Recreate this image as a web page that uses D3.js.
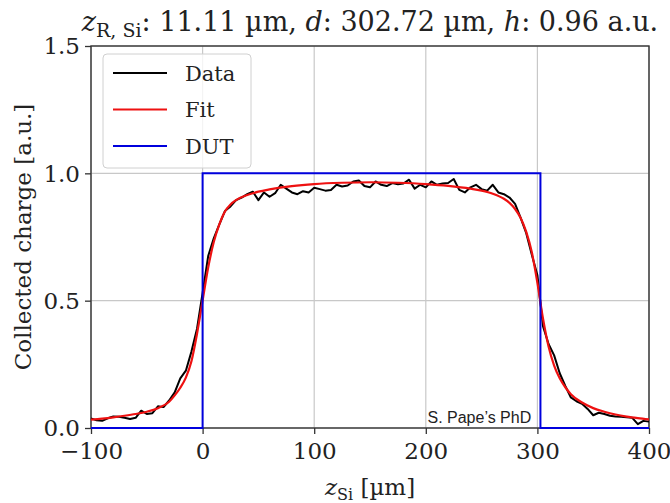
<!DOCTYPE html>
<html>
<head>
<meta charset="utf-8">
<script src="https://cdn.jsdelivr.net/npm/d3@7"></script>
<style>
  body { margin: 0; background: #fff; }
  text { font-family: "DejaVu Serif", serif; fill: #222; }
</style>
</head>
<body>
<div id="chart"></div>
<script>
// scan positions [um] and collected charge [a.u.]
var dataZ = [-100, -95, -90, -85, -80, -75, -70, -65, -60, -55, -50, -45, -40, -35, -30, -25, -20, -15, -10, -5,
    0, 5, 10, 15, 20, 25, 30, 35, 40, 45, 50, 55, 60, 65, 70, 75, 80, 85, 90, 95,
    100, 105, 110, 115, 120, 125, 130, 135, 140, 145, 150, 155, 160, 165, 170, 175, 180, 185, 190, 195,
    200, 205, 210, 215, 220, 225, 230, 235, 240, 245, 250, 255, 260, 265, 270, 275, 280, 285, 290, 295,
    300, 305, 310, 315, 320, 325, 330, 335, 340, 345, 350, 355, 360, 365, 370, 375, 380, 385, 390, 395, 400];
var dataQ = [0.038, 0.030, 0.028, 0.038, 0.045, 0.044, 0.040, 0.035, 0.040, 0.068, 0.055, 0.058, 0.085, 0.082, 0.108, 0.140, 0.195, 0.225, 0.300, 0.390,
    0.530, 0.675, 0.745, 0.800, 0.852, 0.870, 0.895, 0.905, 0.918, 0.928, 0.895, 0.925, 0.908, 0.922, 0.955, 0.940, 0.925, 0.918, 0.930, 0.925,
    0.943, 0.938, 0.932, 0.935, 0.955, 0.948, 0.952, 0.968, 0.972, 0.950, 0.945, 0.968, 0.955, 0.950, 0.962, 0.957, 0.960, 0.975, 0.940, 0.955,
    0.945, 0.968, 0.955, 0.960, 0.962, 0.978, 0.935, 0.925, 0.945, 0.955, 0.938, 0.932, 0.955, 0.925, 0.918, 0.905, 0.880, 0.825, 0.765, 0.680,
    0.600, 0.400, 0.330, 0.285, 0.215, 0.165, 0.120, 0.105, 0.095, 0.075, 0.050, 0.060, 0.055, 0.048, 0.045, 0.044, 0.042, 0.040, 0.015, 0.028, 0.025];

// fit curve
var fitZ = [-100, -90, -80, -70, -60, -50, -40, -30, -25, -20, -15, -10, -5, 0, 5, 10, 15, 20, 25, 30, 40, 50, 60, 80, 100,
    125, 151, 175, 200, 220, 240, 250, 260, 270, 275, 280, 285, 290, 295, 300, 305, 310, 315, 320, 325, 330, 340, 350, 360, 370, 380, 390, 400];
var fitQ = [0.033, 0.037, 0.042, 0.048, 0.055, 0.064, 0.078, 0.103, 0.128, 0.158, 0.198, 0.262, 0.370, 0.500, 0.630, 0.730, 0.800, 0.850, 0.878, 0.895, 0.915, 0.928, 0.937, 0.950, 0.958,
    0.963, 0.965, 0.963, 0.958, 0.951, 0.940, 0.932, 0.920, 0.900, 0.884, 0.860, 0.825, 0.770, 0.690, 0.570, 0.430, 0.320, 0.245, 0.195, 0.160, 0.133, 0.100, 0.078, 0.064, 0.053, 0.045, 0.039, 0.034];

// DUT box (thickness 302.72 um)
var dutZ = [-100, 0, 0, 302.72, 302.72, 400];
var dutQ = [0, 0, 1, 1, 0, 0];

var xTicks = [-100, 0, 100, 200, 300, 400];
var xTickLabels = ["\u2212100", "0", "100", "200", "300", "400"];
var yTicks = [0, 0.5, 1.0, 1.5];
var yTickLabels = ["0.0", "0.5", "1.0", "1.5"];

var width = 670;
var height = 503;
var margin = { top: 46, right: 21, bottom: 75, left: 91 };
var w = width - margin.left - margin.right;
var h = height - margin.top - margin.bottom;

var svg = d3.select("#chart")
    .append("svg")
    .attr("width", width)
    .attr("height", height);

var g = svg.append("g")
    .attr("transform", "translate(" + margin.left + "," + margin.top + ")");

var x = d3.scaleLinear().domain([-100, 400]).range([0, w]);
var y = d3.scaleLinear().domain([0, 1.5]).range([h, 0]);

// grid
g.append("g").selectAll("line")
    .data(xTicks)
    .enter()
    .append("line")
    .attr("x1", d => x(d)).attr("x2", d => x(d))
    .attr("y1", 0).attr("y2", h)
    .attr("stroke", "#c8c8c8").attr("stroke-width", 1.2);

g.append("g").selectAll("line")
    .data(yTicks)
    .enter()
    .append("line")
    .attr("x1", 0).attr("x2", w)
    .attr("y1", d => y(d)).attr("y2", d => y(d))
    .attr("stroke", "#c8c8c8").attr("stroke-width", 1.2);

// axes
var xAxis = g.append("g")
    .attr("transform", "translate(0," + h + ")")
    .call(d3.axisBottom(x).tickValues(xTicks).tickSize(6).tickPadding(8)
        .tickFormat((d, i) => xTickLabels[i]));

var yAxis = g.append("g")
    .call(d3.axisLeft(y).tickValues(yTicks).tickSize(6).tickPadding(5)
        .tickFormat((d, i) => yTickLabels[i]));

[xAxis, yAxis].forEach(function (a) {
    a.select(".domain").remove();
    a.selectAll(".tick line").attr("stroke", "#333").attr("stroke-width", 1.3);
    a.selectAll(".tick text")
        .style("font-family", "'DejaVu Serif', serif")
        .style("font-size", "23px")
        .attr("fill", "#333");
});
yAxis.selectAll(".tick text").attr("dy", "0.34em");
xAxis.selectAll(".tick text").attr("dy", "0.74em");

// frame
g.append("rect")
    .attr("width", w).attr("height", h)
    .attr("fill", "none")
    .attr("stroke", "#333").attr("stroke-width", 1.4);

// curves
var lineData = d3.line()
    .x((d, i) => x(dataZ[i]))
    .y(d => y(d));

var lineFit = d3.line()
    .x((d, i) => x(fitZ[i]))
    .y(d => y(d))
    .curve(d3.curveMonotoneX);

var lineDut = d3.line()
    .x((d, i) => x(dutZ[i]))
    .y(d => y(d));

g.append("path").attr("d", lineData(dataQ))
    .attr("fill", "none").attr("stroke", "#000").attr("stroke-width", 2)
    .attr("stroke-linejoin", "round");

g.append("path").attr("d", lineFit(fitQ))
    .attr("fill", "none").attr("stroke", "#ee1111").attr("stroke-width", 2.2);

g.append("path").attr("d", lineDut(dutQ))
    .attr("fill", "none").attr("stroke", "#0000dd").attr("stroke-width", 2);

// watermark
g.append("text")
    .attr("x", x(201.5)).attr("y", y(0.02))
    .style("font-family", "'Liberation Sans', Arial, sans-serif")
    .style("font-size", "16px")
    .attr("fill", "#111")
    .text("S. Pape\u2019s PhD");

// legend
var legend = g.append("g").attr("transform", "translate(12,8)");
legend.append("rect")
    .attr("width", 148).attr("height", 114)
    .attr("rx", 4)
    .attr("fill", "#fff").attr("fill-opacity", 0.8)
    .attr("stroke", "#d0d0d0").attr("stroke-width", 1);

var legendItems = [
    { name: "Data", color: "#000" },
    { name: "Fit", color: "#ee1111" },
    { name: "DUT", color: "#0000dd" }
];
legendItems.forEach(function (d, i) {
    var yy = 19 + i * 36.5;
    legend.append("line")
        .attr("x1", 10).attr("x2", 64)
        .attr("y1", yy).attr("y2", yy)
        .attr("stroke", d.color).attr("stroke-width", 2.2);
    legend.append("text")
        .attr("x", 82).attr("y", yy)
        .attr("dy", "0.36em")
        .style("font-size", "21px")
        .text(d.name);
});

// title
var title = svg.append("text")
    .attr("x", margin.left + w / 2)
    .attr("y", 31)
    .attr("text-anchor", "middle")
    .style("font-size", "27px");
title.append("tspan").style("font-style", "italic").text("z");
title.append("tspan").attr("dy", 6).style("font-size", "19px").text("R, Si");
title.append("tspan").attr("dy", -6).text(": 11.11 \u00b5m, ");
title.append("tspan").style("font-style", "italic").text("d");
title.append("tspan").text(": 302.72 \u00b5m, ");
title.append("tspan").style("font-style", "italic").text("h");
title.append("tspan").text(": 0.96 a.u.");

// axis labels
var xl = svg.append("text")
    .attr("x", margin.left + w / 2)
    .attr("y", 495)
    .attr("text-anchor", "middle")
    .style("font-size", "23px");
xl.append("tspan").style("font-style", "italic").text("z");
xl.append("tspan").attr("dy", 5).style("font-size", "16px").text("Si");
xl.append("tspan").attr("dy", -5).text(" [\u00b5m]");

svg.append("text")
    .attr("transform", "translate(31," + (margin.top + h / 2) + ") rotate(-90)")
    .attr("text-anchor", "middle")
    .style("font-size", "23px")
    .text("Collected charge [a.u.]");
</script>
</body>
</html>
